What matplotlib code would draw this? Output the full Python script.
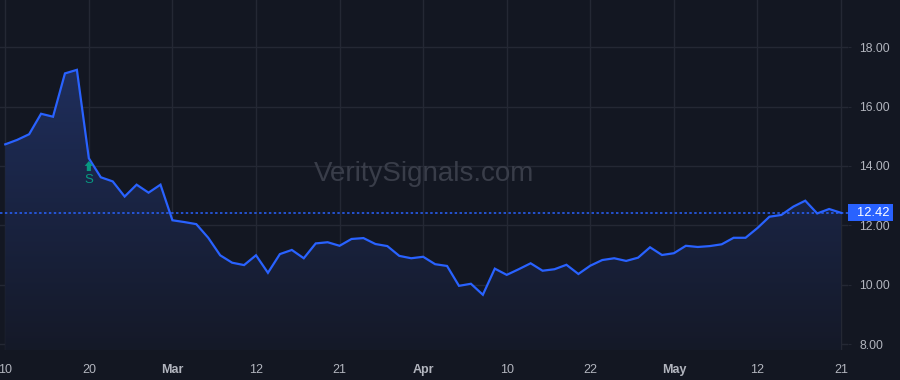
import numpy as np
import matplotlib
matplotlib.use("Agg")
import matplotlib.pyplot as plt
from matplotlib.patches import Rectangle
from matplotlib.transforms import blended_transform_factory, ScaledTranslation
from matplotlib.colors import to_rgb

plt.rcParams['font.family'] = ['Liberation Sans', 'DejaVu Sans']

# ---- data ----
prices = [14.73, 14.88, 15.07, 15.76, 15.66, 17.12, 17.24, 14.26, 13.62, 13.48,
          12.97, 13.37, 13.10, 13.37, 12.17, 12.11, 12.04, 11.58, 10.99, 10.74,
          10.66, 10.99, 10.40, 11.03, 11.17, 10.89, 11.39, 11.43, 11.31, 11.54,
          11.57, 11.37, 11.30, 10.97, 10.89, 10.94, 10.69, 10.63, 9.96, 10.03,
          9.66, 10.54, 10.33, 10.52, 10.72, 10.47, 10.52, 10.67, 10.36, 10.64,
          10.83, 10.89, 10.80, 10.91, 11.26, 11.00, 11.06, 11.31, 11.27, 11.30,
          11.36, 11.58, 11.58, 11.91, 12.29, 12.35, 12.63, 12.83, 12.40, 12.55,
          12.42]
tick_positions = [0, 7, 14, 21, 28, 35, 42, 49, 56, 63, 70]
tick_labels = ['10', '20', 'Mar', '12', '21', 'Apr', '10', '22', 'May', '12', '21']
bold_labels = ['Mar', 'Apr', 'May']
y_ticks = [8, 10, 12, 14, 16, 18]
last_price = 12.42
signal_index = 7
signal_label = 'S'
watermark = 'VeritySignals.com'

# ---- style ----
BG = '#131722'
GRID = '#242834'
LINE = '#2962ff'
TEXT = '#b2b5be'
SIGNAL = '#089981'

W, H = 900, 380
fig = plt.figure(figsize=(W / 100, H / 100), dpi=100, facecolor=BG)
ax_right = 848
ax_bottom = 350
ax = fig.add_axes([0, (H - ax_bottom) / H, ax_right / W, ax_bottom / H])
ax.set_facecolor(BG)

x = np.arange(len(prices))
y = np.array(prices)

ax.set_xlim(-0.44, 70.58)
ax.set_ylim(7.798, 19.594)

# grid
for t in tick_positions:
    ax.axvline(t, color=GRID, lw=1, zorder=0)
for t in y_ticks:
    ax.axhline(t, color=GRID, lw=1, zorder=0)

# gradient fill
poly = ax.fill_between(x, y, 7.798, color='none', lw=0)
top_c = np.array([0.12, 0.18, 0.36])
bot_c = np.array(to_rgb(BG)) * 0.6 + np.array([0.09, 0.11, 0.19]) * 0.4
n = 256
grad = np.linspace(0, 1, n)[:, None]
img = top_c[None, None, :] * (1 - grad[..., None]) + bot_c[None, None, :] * grad[..., None]
img = np.repeat(img, 2, axis=1)
im = ax.imshow(img, extent=[x.min(), x.max(), 7.798, y.max()], aspect='auto',
               origin='upper', zorder=1)
path = poly.get_paths()[0]
im.set_clip_path(path, transform=ax.transData)

ax.plot(x, y, color=LINE, lw=1.6, zorder=3, solid_joinstyle='miter')

# last price line
ax.axhline(last_price, color=LINE, lw=1.1, ls=(0, (1.6, 1.6)), zorder=2)

# signal marker (block arrow just under the point, label below)
head_tr = ax.transData + ScaledTranslation(0, -2.0 / 72, fig.dpi_scale_trans)
ax.annotate('', xy=(signal_index, prices[signal_index]), xycoords=head_tr,
            xytext=(0, -7.2), textcoords='offset points',
            arrowprops=dict(arrowstyle='simple,head_length=0.5,head_width=0.85,tail_width=0.42',
                            mutation_scale=7, color=SIGNAL, lw=0, shrinkA=0, shrinkB=0),
            zorder=4)
ax.annotate(signal_label, xy=(signal_index, prices[signal_index]), xycoords='data',
            xytext=(0, -15.5), textcoords='offset points', ha='center', va='center',
            color=SIGNAL, fontsize=9.5, zorder=4)

# watermark
ax.text(0.5, 0.502, watermark, transform=ax.transAxes, ha='center', va='center',
        fontsize=20, color='#393d49', zorder=1.5)

# axes ticks
ax.set_xticks(tick_positions)
ax.set_xticklabels(tick_labels)
for lab in ax.get_xticklabels():
    lab.set_color(TEXT)
    lab.set_fontsize(9)
    if lab.get_text() in bold_labels:
        lab.set_fontweight('bold')
ax.tick_params(axis='x', length=0, pad=10)
ax.yaxis.tick_right()
ax.set_yticks(y_ticks)
ax.set_yticklabels([f'{v:.2f}' for v in y_ticks])
ax.tick_params(axis='y', length=2.5, color=GRID, pad=5.5, labelsize=8.7, labelcolor=TEXT)
for s in ax.spines.values():
    s.set_visible(False)

# price label
tr = blended_transform_factory(fig.transFigure, ax.transData)
box_h = 17 / 29.67
rect = Rectangle((ax_right / W, last_price - box_h / 2), 45 / W, box_h,
                 transform=tr, facecolor=LINE, edgecolor='none', clip_on=False, zorder=10)
fig.patches.append(rect)
fig.text(873 / W, last_price, f'{last_price:.2f}', transform=tr, ha='center', va='center',
         color='white', fontsize=9.3, zorder=11)

fig.savefig('out.png', dpi=100, facecolor=BG)
